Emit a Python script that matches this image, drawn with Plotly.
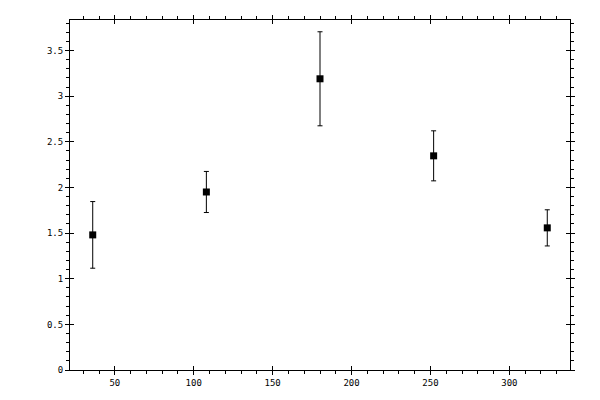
import plotly.graph_objects as go

# valores
posiciones = [36, 108, 180, 252, 324]
medias = [1.48, 1.95, 3.19, 2.346, 1.557]
errores = [0.365, 0.225, 0.515, 0.274, 0.198]

x_rango = [21.6, 338.4]
y_rango = [0, 3.834]

fuente = dict(family="DejaVu Sans Mono", size=9, color="black")

fig = go.Figure()
fig.add_trace(go.Scatter(
    x=posiciones, y=medias, mode="markers",
    marker=dict(symbol="square", size=7, color="black"),
    error_y=dict(type="data", array=errores, visible=True,
                 color="black", thickness=1, width=2.5),
    showlegend=False,
))
# traza vacía para que existan los ejes superpuestos (ticks hacia dentro)
fig.add_trace(go.Scatter(x=[], y=[], xaxis="x2", yaxis="y2", showlegend=False))

eje_comun = dict(showgrid=False, zeroline=False, showline=True,
                 linecolor="black", linewidth=1, mirror="ticks",
                 tickcolor="black", tickwidth=1, tickfont=fuente)

# la página añade 8px de margen al body
fig.update_layout(
    width=592, height=392,
    margin=dict(l=62, r=30, t=7, b=30),
    paper_bgcolor="white", plot_bgcolor="white",
    xaxis=dict(range=x_rango, dtick=50, tick0=0, ticks="outside", ticklen=4,
               minor=dict(dtick=10, tick0=0, ticks="outside", ticklen=3,
                          tickcolor="black", tickwidth=1),
               **eje_comun),
    yaxis=dict(range=y_rango, dtick=0.5, tick0=0, ticks="outside", ticklen=4,
               minor=dict(dtick=0.1, tick0=0, ticks="outside", ticklen=3,
                          tickcolor="black", tickwidth=1),
               **eje_comun),
    xaxis2=dict(overlaying="x", matches="x", anchor="y2", dtick=50, tick0=0,
                ticks="inside", ticklen=4, showticklabels=False,
                showgrid=False, zeroline=False, showline=False,
                mirror="ticks", tickcolor="black"),
    yaxis2=dict(overlaying="y", matches="y", anchor="x2", dtick=0.5, tick0=0,
                ticks="inside", ticklen=4, showticklabels=False,
                showgrid=False, zeroline=False, showline=False,
                mirror="ticks", tickcolor="black"),
)

fig.write_html("out.html")
